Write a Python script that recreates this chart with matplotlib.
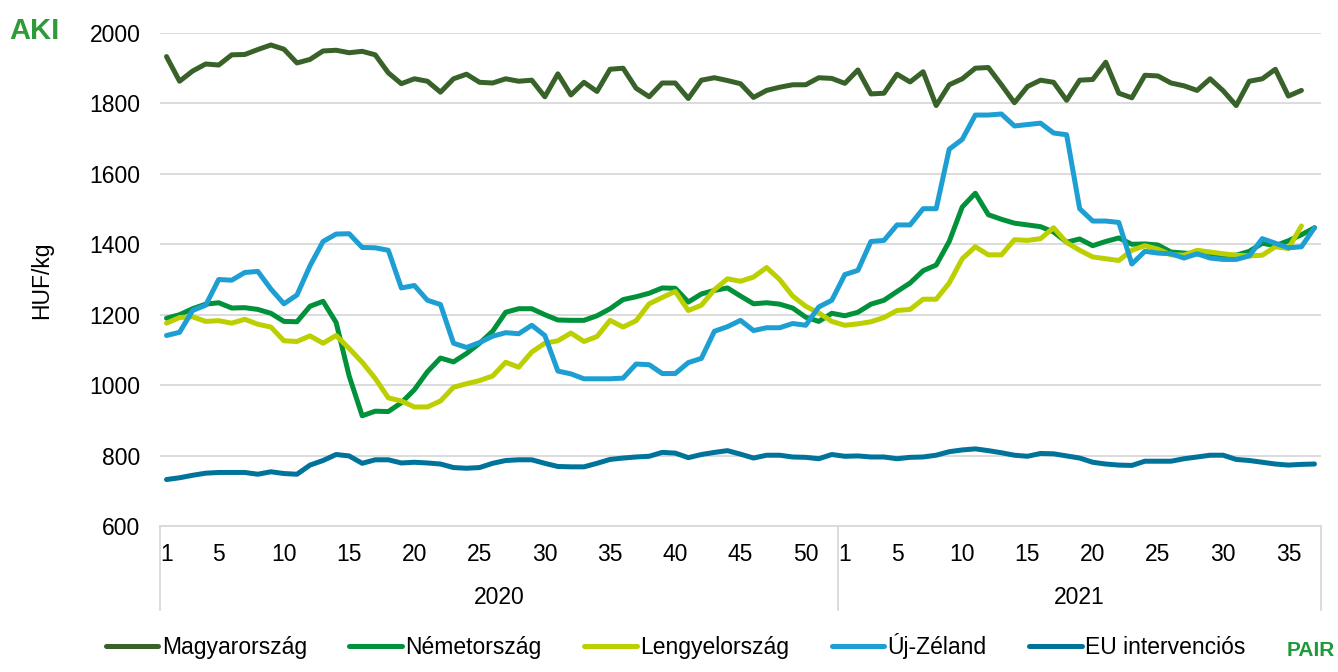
"""Weekly butter/cheese-style price comparison, HUF/kg, 2020-2021 (AKI PÁIR)."""

import matplotlib

matplotlib.use("Agg")
import matplotlib.pyplot as plt
import matplotlib.transforms as mtransforms
import numpy as np

plt.rcParams["font.family"] = ["Liberation Sans", "DejaVu Sans"]

nan = np.nan

# weeks on the category axis
WEEKS_2020 = list(range(1, 53))
WEEKS_2021 = list(range(1, 38))
YEARS = ["2020", "2021"]

magyarorszag = [
    1933, 1863, 1892, 1912, 1909, 1938, 1939, 1953, 1966, 1954,
    1915, 1925, 1949, 1951, 1944, 1948, 1938, 1887, 1856, 1870,
    1863, 1832, 1870, 1883, 1860, 1858, 1870, 1863, 1866, 1819,
    1884, 1824, 1860, 1834, 1897, 1900, 1843, 1819, 1858, 1858,
    1814, 1866, 1873, 1865, 1856, 1817, 1837, 1846, 1853, 1853,
    1873, 1871, 1857, 1895, 1827, 1829, 1883, 1861, 1890, 1794,
    1853, 1870, 1900, 1902, 1853, 1802, 1848, 1866, 1860, 1809,
    1866, 1868, 1917, 1829, 1816, 1880, 1878, 1858, 1850, 1837,
    1870, 1836, 1794, 1863, 1870, 1897, 1821, 1837, nan,
]
nemetorszag = [
    1190, 1200, 1217, 1230, 1234, 1219, 1220, 1215, 1204, 1181,
    1180, 1224, 1238, 1178, 1026, 913, 926, 925, 950, 987,
    1038, 1077, 1066, 1090, 1119, 1153, 1207, 1217, 1217, 1200,
    1185, 1184, 1184, 1197, 1217, 1243, 1251, 1261, 1276, 1275,
    1236, 1259, 1269, 1276, 1253, 1231, 1234, 1230, 1219, 1193,
    1181, 1204, 1197, 1207, 1230, 1241, 1266, 1290, 1325, 1341,
    1408, 1506, 1545, 1484, 1471, 1460, 1455, 1450, 1435, 1406,
    1415, 1396, 1408, 1418, 1400, 1401, 1398, 1378, 1375, 1373,
    1370, 1367, 1369, 1380, 1403, 1396, 1410, 1427, 1447,
]
lengyelorszag = [
    1176, 1192, 1194, 1181, 1183, 1176, 1187, 1173, 1165, 1126,
    1124, 1140, 1119, 1141, 1104, 1065, 1019, 964, 955, 938,
    938, 955, 994, 1004, 1013, 1026, 1065, 1051, 1094, 1119,
    1126, 1148, 1124, 1138, 1184, 1165, 1183, 1231, 1249, 1266,
    1212, 1227, 1271, 1302, 1295, 1307, 1334, 1300, 1253, 1224,
    1205, 1181, 1170, 1174, 1180, 1192, 1212, 1215, 1244, 1244,
    1290, 1359, 1393, 1370, 1370, 1413, 1411, 1416, 1447, 1405,
    1383, 1364, 1359, 1354, 1383, 1396, 1386, 1370, 1369, 1383,
    1378, 1373, 1369, 1367, 1369, 1393, 1388, 1452, nan,
]
uj_zeland = [
    1141, 1150, 1212, 1227, 1300, 1298, 1320, 1323, 1273, 1231,
    1256, 1339, 1408, 1429, 1430, 1391, 1390, 1383, 1276, 1283,
    1241, 1229, 1119, 1107, 1121, 1139, 1149, 1146, 1170, 1141,
    1040, 1032, 1018, 1018, 1018, 1020, 1060, 1058, 1033, 1033,
    1064, 1076, 1153, 1166, 1184, 1155, 1163, 1163, 1175, 1170,
    1222, 1241, 1314, 1326, 1408, 1411, 1455, 1455, 1501, 1501,
    1670, 1698, 1767, 1767, 1770, 1736, 1740, 1744, 1716, 1711,
    1501, 1466, 1466, 1462, 1344, 1380, 1375, 1373, 1361, 1373,
    1361, 1357, 1357, 1367, 1416, 1403, 1390, 1393, 1447,
]
eu_intervencios = [
    732, 737, 744, 750, 752, 752, 752, 747, 754, 749,
    747, 773, 786, 803, 799, 778, 788, 788, 779, 781,
    779, 776, 766, 764, 766, 778, 786, 788, 788, 778,
    769, 768, 768, 778, 789, 793, 796, 798, 809, 807,
    794, 803, 809, 814, 804, 793, 801, 801, 796, 795,
    791, 803, 798, 799, 796, 796, 791, 795, 796, 801,
    811, 816, 819, 814, 808, 801, 798, 806, 805, 799,
    793, 781, 776, 773, 772, 784, 784, 784, 791, 796,
    801, 801, 789, 786, 781, 776, 773, 775, 776,
]

SERIES = [
    ("Magyarország", magyarorszag, "#386229"),
    ("Németország", nemetorszag, "#00913a"),
    ("Lengyelország", lengyelorszag, "#bccf00"),
    ("Új-Zéland", uj_zeland, "#1d9fd3"),
    ("EU intervenciós", eu_intervencios, "#00739a"),
]

W, H = 1338, 672
FS = 16.5
GRID = "#d9d9d9"

fig = plt.figure(figsize=(W / 100, H / 100), dpi=100)
fig.patch.set_facecolor("white")
ax = fig.add_axes([160 / W, 1 - 526 / H, (1321 - 160) / W, (526 - 33) / H])

x = np.arange(len(WEEKS_2020) + len(WEEKS_2021))
for name, vals, color in SERIES:
    ax.plot(x, vals, color=color, lw=3.6, label=name, solid_joinstyle="round",
            solid_capstyle="round", zorder=3)

ax.set_ylim(600, 2000)
ax.set_xlim(-0.5, len(x) - 0.5)
ax.set_yticks(np.arange(600, 2001, 200))
ax.grid(axis="y", color=GRID, lw=1.3, zorder=0)
ax.set_axisbelow(True)
for side in ("top", "right", "left"):
    ax.spines[side].set_visible(False)
ax.spines["bottom"].set_color(GRID)
ax.spines["bottom"].set_linewidth(1.3)

# week tick labels: 1, 5, 10, ... for each year
weeks_all = WEEKS_2020 + WEEKS_2021
tick_pos = [i for i, w in enumerate(weeks_all) if w == 1 or w % 5 == 0]
ax.set_xticks(tick_pos)
ax.set_xticklabels([str(weeks_all[i]) for i in tick_pos])
ax.tick_params(axis="x", length=0, pad=12, labelsize=FS)
ax.tick_params(axis="y", length=0, pad=14, labelsize=FS)

# year row with separators
trans = mtransforms.blended_transform_factory(ax.transData, ax.transAxes)
n20 = len(WEEKS_2020)
bounds = [-0.5, n20 - 0.5, len(x) - 0.5]
for b in bounds:
    ax.plot([b, b], [0, -84 / 493], transform=trans, color=GRID, lw=1.3, clip_on=False)
for yr, lo, hi in zip(YEARS, bounds[:-1], bounds[1:]):
    ax.text((lo + hi) / 2, -72 / 493, yr, transform=trans, ha="center", va="center", fontsize=FS)

fig.text(42 / W, 1 - 280 / H, "HUF/kg", rotation=90, ha="center", va="center", fontsize=FS)

fig.legend(loc="center", bbox_to_anchor=(0.505, 1 - 646 / H), ncol=5, frameon=False,
           fontsize=FS, handlelength=2.3, handletextpad=0.15, columnspacing=1.85)

# logos
fig.text(9 / W, 1 - 31 / H, "AKI", color="#2e9a3a", fontsize=21, weight="bold",
         ha="left", va="center")
fig.text(1335 / W, 1 - 651 / H, "PAIR", color="#1f9a3a", fontsize=15, weight="bold",
         ha="right", va="center")

fig.savefig("out.png", dpi=100, facecolor="white")
